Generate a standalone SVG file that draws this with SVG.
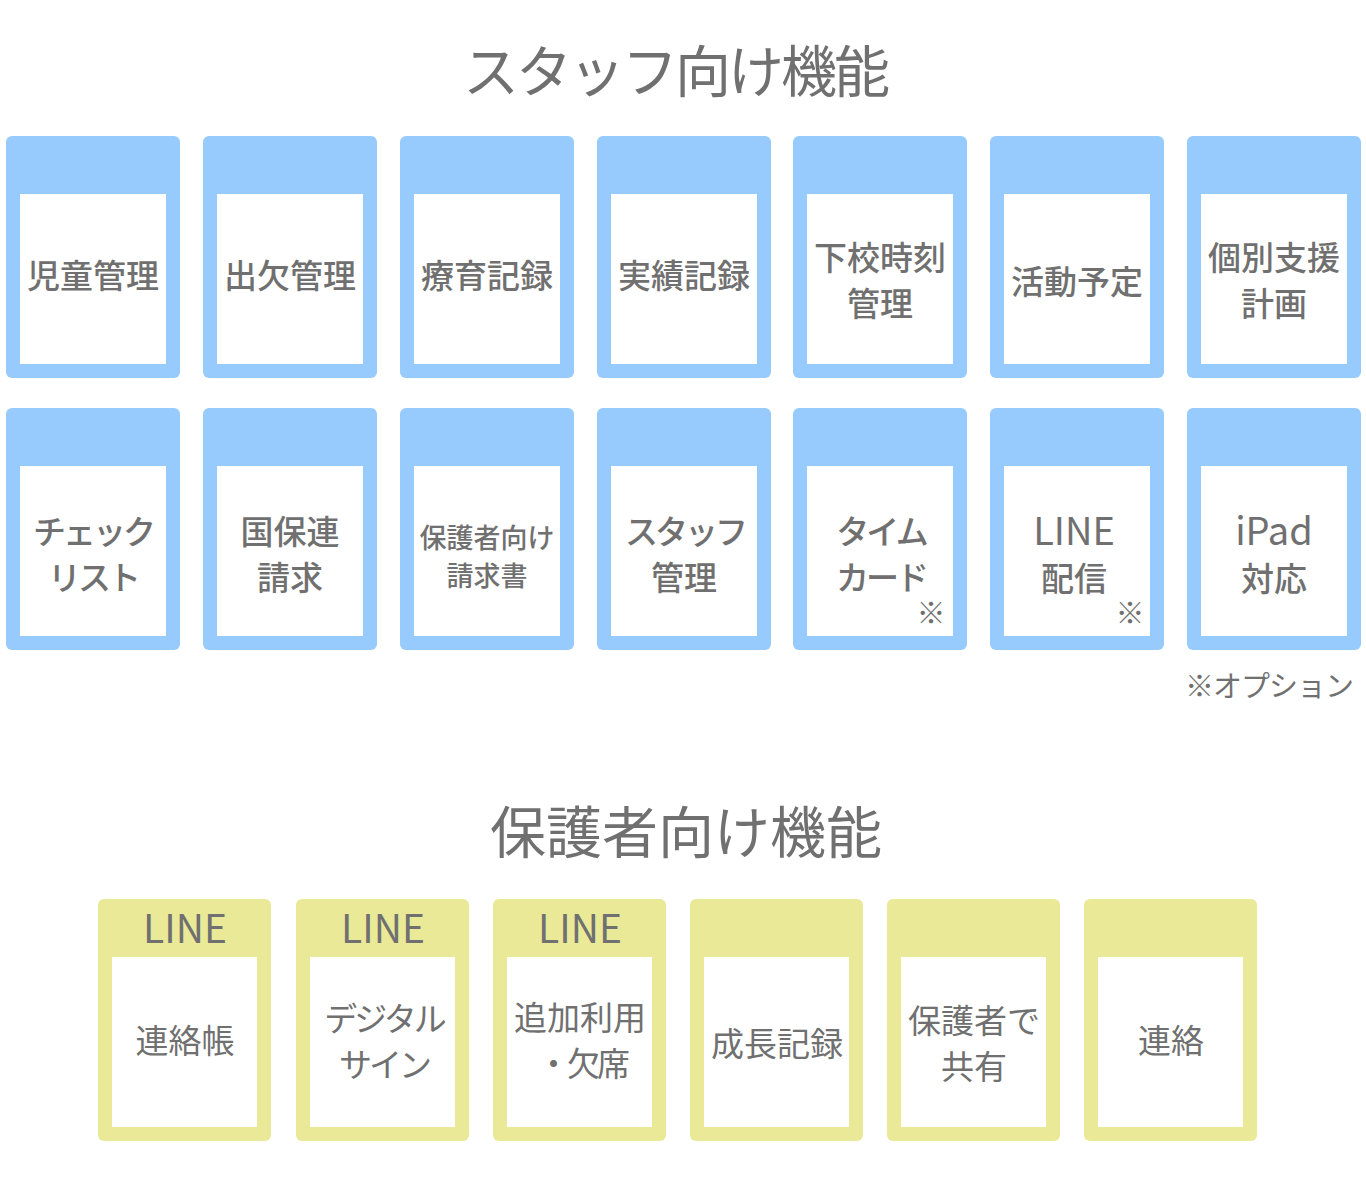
<svg xmlns="http://www.w3.org/2000/svg" width="1366" height="1200" viewBox="0 0 1366 1200">
<style>
text{font-family:"Noto Sans CJK JP","Noto Sans",sans-serif;fill:#707070;text-anchor:middle}
.h{font-size:56px}
.k{letter-spacing:-3px}
.t{font-size:33px;font-weight:500}
.s{font-size:27px;font-weight:500}
.u{font-size:33px}
.l{font-size:39px}
.l2{font-size:38px}
.m{font-size:29px}
.o{font-size:29px;text-anchor:end;letter-spacing:-1px}
.b{fill:#97CBFD}
.y{fill:#E9E997}
.w{fill:#FFFFFF}
</style>
<rect width="1366" height="1200" fill="#FFFFFF"/>
<text class="h k" x="675" y="92">スタッフ向け機能</text>
<text class="h" x="686" y="853">保護者向け機能</text>

<g id="staff-row1">
<g id="s1"><rect class="b" x="6" y="136" width="174" height="242" rx="6"/><rect class="w" x="20" y="194" width="146" height="170"/><text class="t" x="93" y="288">児童管理</text></g>
<g id="s2"><rect class="b" x="203" y="136" width="174" height="242" rx="6"/><rect class="w" x="217" y="194" width="146" height="170"/><text class="t" x="290" y="288">出欠管理</text></g>
<g id="s3"><rect class="b" x="400" y="136" width="174" height="242" rx="6"/><rect class="w" x="414" y="194" width="146" height="170"/><text class="t" x="487" y="288">療育記録</text></g>
<g id="s4"><rect class="b" x="597" y="136" width="174" height="242" rx="6"/><rect class="w" x="611" y="194" width="146" height="170"/><text class="t" x="684" y="288">実績記録</text></g>
<g id="s5"><rect class="b" x="793" y="136" width="174" height="242" rx="6"/><rect class="w" x="807" y="194" width="146" height="170"/><text class="t" x="880" y="270">下校時刻</text><text class="t" x="880" y="316">管理</text></g>
<g id="s6"><rect class="b" x="990" y="136" width="174" height="242" rx="6"/><rect class="w" x="1004" y="194" width="146" height="170"/><text class="t" x="1077" y="294">活動予定</text></g>
<g id="s7"><rect class="b" x="1187" y="136" width="174" height="242" rx="6"/><rect class="w" x="1201" y="194" width="146" height="170"/><text class="t" x="1274" y="270">個別支援</text><text class="t" x="1274" y="316">計画</text></g>
</g>

<g id="staff-row2">
<g id="s8"><rect class="b" x="6" y="408" width="174" height="242" rx="6"/><rect class="w" x="20" y="466" width="146" height="170"/><text class="t k" x="93" y="544">チェック</text><text class="t k" x="93" y="590">リスト</text></g>
<g id="s9"><rect class="b" x="203" y="408" width="174" height="242" rx="6"/><rect class="w" x="217" y="466" width="146" height="170"/><text class="t" x="290" y="544">国保連</text><text class="t" x="290" y="590">請求</text></g>
<g id="s10"><rect class="b" x="400" y="408" width="174" height="242" rx="6"/><rect class="w" x="414" y="466" width="146" height="170"/><text class="s" x="487" y="548">保護者向け</text><text class="s" x="487" y="586">請求書</text></g>
<g id="s11"><rect class="b" x="597" y="408" width="174" height="242" rx="6"/><rect class="w" x="611" y="466" width="146" height="170"/><text class="t k" x="685" y="544">スタッフ</text><text class="t" x="684" y="590">管理</text></g>
<g id="s12"><rect class="b" x="793" y="408" width="174" height="242" rx="6"/><rect class="w" x="807" y="466" width="146" height="170"/><text class="t k" x="881" y="544">タイム</text><text class="t k" x="881" y="590">カード</text><text class="m" x="931" y="624">※</text></g>
<g id="s13"><rect class="b" x="990" y="408" width="174" height="242" rx="6"/><rect class="w" x="1004" y="466" width="146" height="170"/><text class="l2" x="1074" y="545">LINE</text><text class="t" x="1074" y="591">配信</text><text class="m" x="1130" y="624">※</text></g>
<g id="s14"><rect class="b" x="1187" y="408" width="174" height="242" rx="6"/><rect class="w" x="1201" y="466" width="146" height="170"/><text class="l2" x="1274" y="545">iPad</text><text class="t" x="1274" y="591">対応</text></g>
</g>
<text class="o" x="1353" y="697">※オプション</text>

<g id="parent-row">
<g id="p1"><rect class="y" x="98" y="899" width="173" height="242" rx="6"/><rect class="w" x="112" y="957" width="145" height="170"/><text class="l" x="185" y="943">LINE</text><text class="u" x="185" y="1053">連絡帳</text></g>
<g id="p2"><rect class="y" x="296" y="899" width="173" height="242" rx="6"/><rect class="w" x="310" y="957" width="145" height="170"/><text class="l" x="383" y="943">LINE</text><text class="u k" x="384" y="1031">デジタル</text><text class="u k" x="384" y="1077">サイン</text></g>
<g id="p3"><rect class="y" x="493" y="899" width="173" height="242" rx="6"/><rect class="w" x="507" y="957" width="145" height="170"/><text class="l" x="580" y="943">LINE</text><text class="u" x="580" y="1030">追加利用</text><text class="u k" x="582" y="1076">・欠席</text></g>
<g id="p4"><rect class="y" x="690" y="899" width="173" height="242" rx="6"/><rect class="w" x="704" y="957" width="145" height="170"/><text class="u" x="777" y="1056">成長記録</text></g>
<g id="p5"><rect class="y" x="887" y="899" width="173" height="242" rx="6"/><rect class="w" x="901" y="957" width="145" height="170"/><text class="u" x="974" y="1033">保護者で</text><text class="u" x="974" y="1079">共有</text></g>
<g id="p6"><rect class="y" x="1084" y="899" width="173" height="242" rx="6"/><rect class="w" x="1098" y="957" width="145" height="170"/><text class="u" x="1171" y="1053">連絡</text></g>
</g>
</svg>
